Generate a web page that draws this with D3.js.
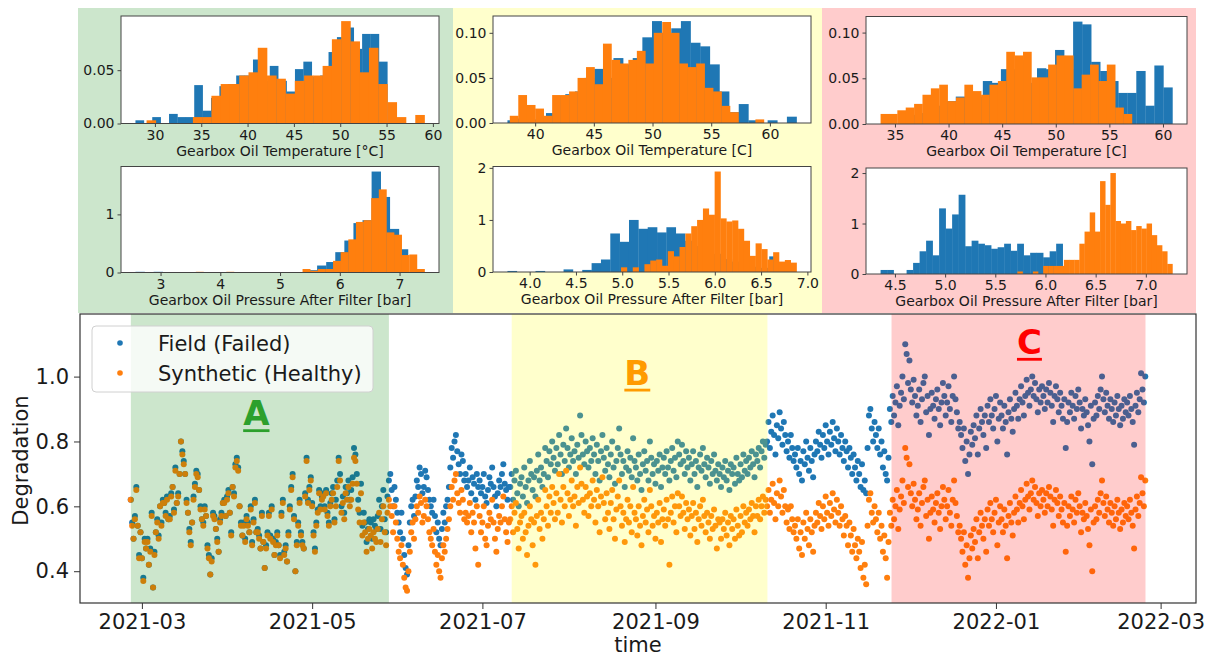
<!DOCTYPE html>
<html>
<head>
<meta charset="utf-8">
<script src="https://cdn.jsdelivr.net/npm/d3@7"></script>
<style>
body{margin:0;background:#fff;}
svg{display:block;font-family:"DejaVu Sans",sans-serif;}
</style>
</head>
<body>
<svg id="chart" width="1209" height="658"></svg>
<script>

//******************************************************************************
//**  Data
//******************************************************************************

  //Histograms: [first bin edge, bin width] and bin heights (density)
    var tempA_failedBin = [27.9, 0.906];
    var tempA_failed = [0.003,0,0.006,0,0.009,0.006,0.006,0.036,0.012,0.024,0.035,0.037,0.045,0.045,0.060,
                        0.040,0.054,0.040,0.030,0.051,0.058,0.044,0.045,0.067,0.081,0.090,0.070,0.084,0.084,0.058];
    var tempA_synthBin = [29.1, 1.0];
    var tempA_synth = [0.003,0,0,0,0,0.006,0.006,0.026,0.037,0.037,0.045,0.048,0.071,0.045,0.042,
                       0.028,0.040,0.045,0.045,0.054,0.079,0.096,0.077,0.048,0.071,0.037,0.020,0.006,0,0.008];

    var presA_failedBin = [2.58, 0.152];
    var presA_failed = [0.012,0,0.012,0,0,0,0,0,0,0,0,0,0,0,0,0,0,0,0,0.04,
                        0.12,0.18,0.35,0.55,0.85,0.90,1.737,1.30,0.75,0.40];
    var presA_synthBin = [3.59, 0.1276];
    var presA_synth = [0.012,0,0,0,0.012,0,0,0,0,0,0,0,0,0,0.06,0.03,0.06,0.06,0.20,0.35,
                       0.57,0.87,0.90,1.28,1.43,0.69,0.65,0.30,0.31,0.06];

    var tempB_failedBin = [37.64, 0.821];
    var tempB_failed = [0.003,0.005,0.004,0.006,0.011,0.030,0.032,0.035,0.050,0.060,0.050,0.072,0.065,0.072,0.095,
                        0.113,0.100,0.105,0.113,0.089,0.085,0.065,0.035,0.012,0.021,0.003,0,0.003,0,0.007];
    var tempB_synthBin = [37.84, 0.7216];
    var tempB_synth = [0.008,0.031,0.020,0.016,0.008,0.031,0.031,0.035,0.050,0.062,0.043,0.088,0.070,0.066,0.070,
                       0.080,0.066,0.100,0.112,0.100,0.066,0.062,0.066,0.039,0.035,0.019,0.012,0,0,0.004];

    var presB_failedBin = [3.76, 0.101];
    var presB_failed = [0.02,0,0,0.02,0,0,0.05,0,0.04,0.17,0.24,0.74,0.58,1.00,0.83,
                        0.86,0.76,0.86,0.74,0.60,0.50,0.40,0.35,0.25,0.20,0.15,0.10,0.08,0.30,0.05];
    var presB_synthBin = [4.987, 0.0632];
    var presB_synth = [0.09,0,0.09,0,0.15,0.22,0.24,0.12,0.40,0.30,0.48,0.74,0.88,1.00,1.22,
                       1.10,1.93,1.03,0.97,0.99,0.83,0.60,0.31,0.55,0.44,0.24,0.38,0.20,0.23,0.18];

    var tempC_failedBin = [35.62, 0.842];
    var tempC_failed = [0.008,0.010,0.012,0.015,0.020,0.025,0.030,0.025,0.030,0.047,0.045,0.060,0.060,0.070,0.045,
                        0.061,0.060,0.081,0.060,0.112,0.109,0.068,0.058,0.047,0.034,0.034,0.058,0.020,0.064,0.040];
    var tempC_synthBin = [33.66, 0.7815];
    var tempC_synth = [0.011,0.011,0.015,0.018,0.022,0.032,0.039,0.043,0.025,0.029,0.043,0.036,0.032,0.043,0.047,
                       0.079,0.075,0.079,0.051,0.051,0.065,0.075,0.075,0.039,0.054,0.065,0.047,0.065,0.018,0.011];

    var presC_failedBin = [4.357, 0.0648];
    var presC_failed = [0.08,0.08,0,0,0.08,0.22,0.45,0.66,0.37,1.30,0.90,1.18,1.57,0.55,
                        0.66,0.60,0.57,0.50,0.53,0.60,0.46,0.60,0.37,0.42,0.42,0.33,0.45,0.60];
    var presC_synthBin = [5.72, 0.0515];
    var presC_synth = [0.05,0,0,0.05,0,0.16,0.16,0.16,0.16,0.28,0.28,0.28,0.60,0.84,1.22,
                       0.84,1.84,1.37,2.00,1.05,1.00,1.05,0.87,0.95,0.90,1.00,0.77,0.57,0.45,0.20];

  //Histogram tick labels
    var tempTicksA = [30,35,40,45,50,55,60];
    var tempTicksB = [40,45,50,55,60];
    var tempTicksC = [35,40,45,50,55,60];
    var presTicksA = [3,4,5,6,7];
    var presTicksB = [4.0,4.5,5.0,5.5,6.0,6.5,7.0];
    var presTicksC = [4.5,5.0,5.5,6.0,6.5,7.0];
    var densTicksA = [0,0.05];
    var densTicksBC = [0,0.05,0.10];
    var presDensTicksA = [0,1];
    var presDensTicksBC = [0,1,2];

  //Degradation, two readings per day starting 2021-02-25
    var startDate = "2021-02-25";
    var field = [
      0.62,0.55,0.50,0.57,0.66,0.54,0.45,0.52,0.44,0.38,0.50,0.47,0.50,0.42,0.47,0.58,0.35,0.46,0.52,0.56,
      0.51,0.60,0.55,0.62,0.61,0.58,0.63,0.56,0.57,0.64,0.66,0.59,0.72,0.61,0.64,0.70,0.80,0.77,0.74,0.70,
      0.62,0.58,0.53,0.49,0.55,0.63,0.67,0.71,0.70,0.65,0.60,0.56,0.55,0.60,0.57,0.48,0.45,0.39,0.44,0.58,
      0.57,0.53,0.50,0.46,0.56,0.58,0.61,0.62,0.57,0.63,0.65,0.58,0.52,0.66,0.64,0.73,0.75,0.72,0.60,0.55,
      0.51,0.55,0.50,0.57,0.55,0.52,0.60,0.49,0.56,0.62,0.52,0.53,0.51,0.47,0.58,0.49,0.41,0.48,0.52,0.58,
      0.51,0.60,0.50,0.45,0.49,0.52,0.48,0.45,0.58,0.62,0.46,0.48,0.43,0.52,0.60,0.66,0.70,0.57,0.40,0.49,
      0.55,0.62,0.52,0.49,0.47,0.64,0.75,0.62,0.66,0.69,0.61,0.52,0.47,0.55,0.59,0.65,0.60,0.63,0.64,0.60,
      0.65,0.58,0.55,0.61,0.64,0.66,0.56,0.62,0.68,0.75,0.70,0.60,0.63,0.58,0.66,0.64,0.68,0.62,0.65,0.69,
      0.78,0.76,0.70,0.62,0.58,0.67,0.54,0.58,0.55,0.49,0.53,0.56,0.55,0.50,0.56,0.54,0.53,0.57,0.62,0.53,
      0.60,0.65,0.56,0.52,
      0.63,0.68,0.70,0.65,0.60,0.66,0.62,0.58,0.55,0.52,
      0.58,0.50,0.45,0.41,0.39,0.48,0.55,0.60,0.62,0.57,
      0.63,0.68,0.66,0.72,0.70,0.64,0.66,0.71,0.69,0.65,0.62,0.60,0.58,0.62,
      0.57,0.52,0.55,0.50,0.48,0.53,0.58,0.55,0.60,0.62,
      0.66,0.72,0.78,0.75,0.80,0.82,0.77,0.73,0.70,0.76,0.74,0.68,
      0.70,0.66,0.68,0.72,0.64,0.69,0.67,0.62,0.70,0.66,
      0.68,0.64,0.66,0.70,0.63,0.61,0.65,0.69,0.67,0.72,0.66,0.63,0.60,0.64,0.68,0.66,0.70,0.73,0.67,0.65,0.62,0.66,
      0.66,0.70,0.62,0.68,0.71,0.64,0.60,0.67,0.69,0.63,0.72,0.66,0.61,0.68,0.74,0.70,0.65,0.69,0.63,0.71,
      0.76,0.68,0.72,0.66,0.70,0.78,0.74,0.69,0.77,0.73,0.80,0.75,0.71,0.78,0.73,0.82,0.76,0.70,0.79,0.74,
      0.84,0.78,0.72,0.76,0.81,0.74,0.77,0.70,0.79,0.75,0.88,0.82,0.76,0.73,0.80,0.77,0.72,0.78,0.74,0.81,
      0.76,0.70,0.79,0.74,0.68,0.77,0.82,0.75,0.71,0.78,0.73,0.69,0.76,0.80,0.72,0.67,0.74,0.78,0.84,0.76,
      0.70,0.74,0.66,0.72,0.77,0.71,0.75,0.69,0.81,0.74,0.72,0.68,0.76,0.70,0.65,0.73,0.77,0.71,0.74,0.68,
      0.80,0.75,0.70,0.73,0.67,0.74,0.71,0.76,0.66,0.72,0.75,0.70,0.77,0.72,0.68,0.74,0.78,0.71,0.75,0.69,
      0.80,0.76,0.73,0.79,0.74,0.70,0.77,0.72,0.75,0.68,0.73,0.77,0.70,0.74,0.66,0.72,0.76,0.71,0.78,0.73,
      0.69,0.75,0.72,0.67,0.74,0.70,0.76,0.71,0.68,0.73,0.70,0.66,0.72,0.69,0.74,0.68,0.71,0.65,0.73,0.70,
      0.72,0.67,0.75,0.70,0.68,0.73,0.69,0.76,0.71,0.74,0.70,0.75,0.72,0.77,0.73,0.69,0.76,0.74,0.78,0.72,
      0.77,0.80,0.75,0.79,
      0.80,0.86,0.78,0.83,0.88,0.82,0.76,0.85,0.81,0.89,0.84,0.79,0.86,0.82,0.77,0.80,0.75,0.82,0.78,0.74,
      0.76,0.72,0.78,0.70,0.74,0.68,0.77,0.73,0.80,0.75,0.71,0.78,0.74,0.69,0.76,0.80,0.77,0.83,0.79,0.75,
      0.82,0.78,0.85,0.80,0.76,0.83,0.79,0.86,0.81,0.77,0.84,0.80,0.76,0.82,0.78,0.74,0.80,0.77,0.72,0.78,
      0.75,0.70,0.76,0.72,0.68,0.74,0.70,0.66,0.73,0.65,0.68,0.64,0.78,0.88,0.90,0.84,0.80,0.86,0.82,0.78,
      0.84,0.76,0.80,0.72,0.77,0.70,0.68,0.75,
      0.90,0.86,0.94,0.88,0.92,0.97,0.85,0.91,0.95,1.00,0.93,1.10,1.07,0.98,1.05,0.96,0.92,0.99,0.94,0.88,
      0.91,0.96,0.86,0.93,0.98,1.00,0.89,0.94,0.82,0.90,0.95,0.91,0.87,0.93,0.96,0.90,0.85,0.92,0.98,0.94,
      0.88,0.92,0.97,0.90,0.86,0.94,1.00,0.93,0.89,0.84,0.86,0.82,0.78,0.84,0.74,0.80,0.70,0.76,0.83,0.79,
      0.85,0.81,0.88,0.76,0.84,0.90,0.86,0.82,0.88,0.78,0.91,0.86,0.93,0.88,0.84,0.90,0.94,0.80,0.87,0.92,
      0.88,0.84,0.91,0.86,0.76,0.89,0.93,0.87,0.83,0.90,0.95,0.91,0.87,0.93,0.97,0.92,0.88,0.94,0.99,0.95,
      0.91,0.96,1.00,0.94,0.98,0.93,0.89,0.96,0.92,0.97,0.94,0.90,0.96,0.92,0.98,0.95,0.91,0.86,0.94,0.97,
      0.93,0.89,0.95,0.91,0.87,0.93,0.78,0.86,0.92,0.89,0.95,0.91,0.87,0.94,0.90,0.96,0.92,0.84,0.90,0.88,
      0.93,0.89,0.85,0.80,0.91,0.73,0.87,0.92,0.88,0.94,0.90,0.96,1.00,0.93,0.89,0.95,0.91,0.87,0.93,0.90,
      0.86,0.92,0.88,0.94,0.90,0.85,0.91,0.87,0.93,0.89,0.92,0.88,0.94,0.90,0.86,0.79,0.91,0.95,0.89,0.93,
      1.01,0.96,0.92,1.00
    ];
    var synthetic = [
      0.62,0.54,0.50,0.56,0.65,0.54,0.44,0.52,0.44,0.37,0.49,0.47,0.49,0.42,0.46,0.57,0.35,0.45,0.52,0.55,
      0.50,0.60,0.54,0.61,0.61,0.57,0.62,0.56,0.56,0.63,0.66,0.58,0.71,0.61,0.63,0.70,0.80,0.76,0.73,0.70,
      0.61,0.58,0.52,0.48,0.55,0.62,0.66,0.70,0.69,0.65,0.59,0.56,0.54,0.59,0.57,0.47,0.44,0.39,0.43,0.57,
      0.56,0.53,0.49,0.46,0.55,0.57,0.61,0.61,0.57,0.62,0.64,0.58,0.51,0.66,0.63,0.72,0.74,0.71,0.60,0.54,
      0.51,0.54,0.49,0.56,0.54,0.52,0.59,0.48,0.55,0.61,0.52,0.52,0.50,0.47,0.57,0.49,0.41,0.47,0.51,0.57,
      0.50,0.59,0.49,0.45,0.48,0.51,0.48,0.44,0.57,0.61,0.45,0.47,0.43,0.51,0.59,0.65,0.69,0.56,0.40,0.48,
      0.54,0.61,0.51,0.48,0.47,0.63,0.74,0.61,0.65,0.68,0.60,0.51,0.46,0.54,0.58,0.64,0.59,0.62,0.63,0.59,
      0.64,0.57,0.54,0.60,0.62,0.64,0.55,0.60,0.66,0.74,0.68,0.58,0.61,0.56,0.64,0.62,0.66,0.60,0.62,0.67,
      0.75,0.74,0.67,0.59,0.55,0.64,0.51,0.55,0.52,0.46,0.50,0.53,0.51,0.47,0.52,0.50,0.49,0.53,0.58,0.49,
      0.56,0.60,0.52,0.48,
      0.58,0.62,0.60,0.57,0.52,0.60,0.55,0.50,0.46,0.44,
      0.48,0.42,0.38,0.35,0.34,0.40,0.46,0.52,0.55,0.50,
      0.56,0.60,0.58,0.63,0.61,0.55,0.57,0.62,0.60,0.56,0.52,0.50,0.48,0.53,
      0.46,0.42,0.45,0.40,0.38,0.44,0.48,0.46,0.50,0.53,
      0.56,0.60,0.66,0.62,0.68,0.70,0.64,0.61,0.58,0.65,0.62,0.56,
      0.58,0.55,0.57,0.61,0.52,0.58,0.55,0.47,0.60,0.42,
      0.57,0.52,0.55,0.60,0.50,0.48,0.54,0.58,0.56,0.62,0.55,0.50,0.46,0.53,0.57,0.55,0.60,0.63,0.56,0.52,0.49,0.55,
      0.56,0.60,0.52,0.58,0.61,0.53,0.47,0.55,0.57,0.50,0.58,0.52,0.45,0.54,0.60,0.56,0.48,0.55,0.42,0.57,
      0.62,0.53,0.58,0.50,0.56,0.65,0.60,0.54,0.63,0.58,0.66,0.61,0.56,0.64,0.58,0.70,0.62,0.55,0.66,0.60,
      0.71,0.64,0.57,0.62,0.68,0.60,0.63,0.54,0.66,0.61,0.72,0.67,0.62,0.58,0.66,0.63,0.57,0.64,0.60,0.68,
      0.62,0.55,0.65,0.60,0.52,0.63,0.69,0.61,0.56,0.64,0.58,0.53,0.61,0.65,0.56,0.50,0.59,0.63,0.68,0.60,
      0.54,0.58,0.49,0.56,0.62,0.55,0.60,0.52,0.66,0.58,0.56,0.51,0.60,0.54,0.48,0.57,0.62,0.55,0.59,0.52,
      0.65,0.60,0.54,0.57,0.50,0.58,0.55,0.61,0.49,0.56,0.59,0.54,0.62,0.56,0.42,0.58,0.63,0.55,0.60,0.52,
      0.64,0.60,0.57,0.63,0.58,0.53,0.61,0.56,0.59,0.51,0.57,0.61,0.53,0.58,0.49,0.56,0.60,0.54,0.62,0.57,
      0.52,0.58,0.55,0.50,0.57,0.53,0.59,0.54,0.47,0.56,0.55,0.50,0.56,0.53,0.58,0.51,0.55,0.48,0.57,0.53,
      0.56,0.50,0.59,0.54,0.51,0.57,0.52,0.60,0.55,0.58,0.54,0.59,0.56,0.61,0.57,0.52,0.60,0.57,0.62,0.56,
      0.60,0.63,0.58,0.62,
      0.60,0.65,0.58,0.62,0.67,0.61,0.56,0.64,0.60,0.68,0.63,0.58,0.65,0.60,0.55,0.59,0.53,0.60,0.56,0.52,
      0.54,0.50,0.56,0.47,0.52,0.45,0.55,0.50,0.58,0.53,0.48,0.56,0.52,0.46,0.54,0.58,0.55,0.61,0.57,0.53,
      0.60,0.56,0.63,0.58,0.54,0.61,0.57,0.64,0.59,0.55,0.62,0.58,0.54,0.60,0.56,0.51,0.57,0.54,0.48,0.55,
      0.51,0.46,0.53,0.48,0.44,0.50,0.46,0.41,0.49,0.38,0.42,0.36,0.54,0.62,0.64,0.58,0.55,0.60,0.56,0.52,
      0.58,0.50,0.54,0.46,0.51,0.44,0.38,0.49,
      0.58,0.54,0.62,0.56,0.60,0.65,0.53,0.59,0.63,0.68,0.61,0.78,0.75,0.66,0.73,0.64,0.60,0.67,0.62,0.56,
      0.59,0.64,0.54,0.61,0.66,0.68,0.57,0.62,0.50,0.58,0.63,0.59,0.55,0.61,0.64,0.58,0.53,0.60,0.66,0.62,
      0.56,0.60,0.65,0.58,0.54,0.62,0.68,0.61,0.57,0.52,0.54,0.50,0.46,0.52,0.42,0.48,0.38,0.44,0.51,0.47,
      0.53,0.49,0.56,0.44,0.52,0.58,0.54,0.50,0.56,0.46,0.59,0.54,0.61,0.56,0.52,0.58,0.62,0.48,0.55,0.60,
      0.56,0.52,0.59,0.54,0.44,0.57,0.61,0.55,0.51,0.58,0.63,0.59,0.55,0.61,0.65,0.60,0.56,0.62,0.67,0.63,
      0.59,0.64,0.68,0.62,0.66,0.61,0.57,0.64,0.60,0.65,0.62,0.58,0.64,0.60,0.66,0.63,0.59,0.54,0.62,0.65,
      0.61,0.57,0.63,0.59,0.55,0.61,0.46,0.54,0.60,0.57,0.63,0.59,0.55,0.62,0.58,0.64,0.60,0.52,0.58,0.56,
      0.61,0.57,0.53,0.48,0.59,0.40,0.55,0.60,0.56,0.62,0.58,0.64,0.68,0.61,0.57,0.63,0.59,0.55,0.61,0.58,
      0.54,0.60,0.56,0.62,0.58,0.53,0.59,0.55,0.61,0.57,0.60,0.56,0.62,0.58,0.54,0.47,0.59,0.63,0.57,0.61,
      0.69,0.64,0.60,0.68
    ];

  //Highlighted periods
    var periods = ["A", "B", "C"];
    var periodStart = ["2021-02-25T01:00", "2021-07-11T12:00", "2021-11-24T14:00"];
    var periodEnd = ["2021-05-28T12:00", "2021-10-11T03:00", "2022-02-23T14:00"];
    var periodLabelDate = ["2021-04-11", "2021-08-25T12:00", "2022-01-13"];
    var periodLabelValue = [0.85, 0.975, 1.07];


//******************************************************************************
//**  Setup
//******************************************************************************
    var blue = "#1f77b4", orange = "#ff7f0e";
    var spanColors = ["#008000", "#ffff00", "#ff0000"];
    var panelColors = ["#cce6cc", "#ffffcc", "#ffcccc"];
    var letterColors = ["#2ca02c", "#ff9b00", "#ff0000"];
    var textColor = "#1a1a1a";
    var font = "DejaVu Sans";

    var svg = d3.select("#chart");


  //**************************************************************************
  //** binsOf
  //**************************************************************************
    var binsOf = function(heights, bin){
        return heights.map(function(h, i){
            return {x0: bin[0] + i*bin[1], x1: bin[0] + (i+1)*bin[1], h: h};
        });
    };


  //**************************************************************************
  //** drawHist
  //**************************************************************************
    var drawHist = function(box, failed, synth, xTicks, yTicks, xFmt, yFmt, label){

        var all = failed.concat(synth);
        var lo = d3.min(all, function(d){ return d.x0; });
        var hi = d3.max(all, function(d){ return d.x1; });
        var pad = (hi - lo)*0.05;
        var top = d3.max(all, function(d){ return d.h; })*1.05;

        var x = d3.scaleLinear().domain([lo - pad, hi + pad]).range([box.x0, box.x1]);
        var y = d3.scaleLinear().domain([0, top]).range([box.y1, box.y0]);

        var g = svg.append("g");
        g.append("rect")
            .attr("x", box.x0).attr("y", box.y0)
            .attr("width", box.x1 - box.x0).attr("height", box.y1 - box.y0)
            .attr("fill", "#fff");

        [[failed, blue], [synth, orange]].forEach(function(s){
            g.append("g").selectAll("rect")
                .data(s[0].filter(function(d){ return d.h > 0; }))
                .join("rect")
                .attr("x", function(d){ return x(d.x0); })
                .attr("width", function(d){ return x(d.x1) - x(d.x0) + 0.3; })
                .attr("y", function(d){ return y(d.h); })
                .attr("height", function(d){ return y(0) - y(d.h); })
                .attr("fill", s[1]);
        });

        g.append("rect")
            .attr("x", box.x0).attr("y", box.y0)
            .attr("width", box.x1 - box.x0).attr("height", box.y1 - box.y0)
            .attr("fill", "none").attr("stroke", "#444").attr("stroke-width", 1);

        var xa = g.append("g").attr("transform", "translate(0," + box.y1 + ")")
            .call(d3.axisBottom(x).tickValues(xTicks).tickSize(3.5).tickPadding(3).tickFormat(d3.format(xFmt)));
        var ya = g.append("g").attr("transform", "translate(" + box.x0 + ",0)")
            .call(d3.axisLeft(y).tickValues(yTicks).tickSize(3.5).tickPadding(3).tickFormat(d3.format(yFmt)));
        [xa, ya].forEach(function(a){
            a.select(".domain").remove();
            a.attr("font-family", font).attr("font-size", 14);
            a.selectAll("line").attr("stroke", "#444");
            a.selectAll("text").attr("fill", textColor);
        });

        g.append("text")
            .attr("x", (box.x0 + box.x1)/2).attr("y", box.y1 + 32)
            .attr("text-anchor", "middle")
            .attr("font-family", font).attr("font-size", 14)
            .attr("fill", textColor)
            .text(label);
    };


//******************************************************************************
//**  Top panels
//******************************************************************************
    var tempLabel = "Gearbox Oil Temperature [C]";
    var presLabel = "Gearbox Oil Pressure After Filter [bar]";

    var panels = [
        {x0: 78, x1: 453, top: [121, 439, 16, 123.5], bottom: [121, 439, 166.5, 272.5],
         temp: [binsOf(tempA_failed, tempA_failedBin), binsOf(tempA_synth, tempA_synthBin)],
         pres: [binsOf(presA_failed, presA_failedBin), binsOf(presA_synth, presA_synthBin)],
         tt: [tempTicksA, densTicksA], pt: [presTicksA, presDensTicksA], pf: "d",
         tl: "Gearbox Oil Temperature [\u00b0C]"},
        {x0: 453, x1: 822, top: [493, 811, 16, 123], bottom: [493, 811, 166.5, 272],
         temp: [binsOf(tempB_failed, tempB_failedBin), binsOf(tempB_synth, tempB_synthBin)],
         pres: [binsOf(presB_failed, presB_failedBin), binsOf(presB_synth, presB_synthBin)],
         tt: [tempTicksB, densTicksBC], pt: [presTicksB, presDensTicksBC], pf: ".1f",
         tl: tempLabel},
        {x0: 822, x1: 1196, top: [866, 1187, 16.5, 124], bottom: [866, 1187, 168, 274],
         temp: [binsOf(tempC_failed, tempC_failedBin), binsOf(tempC_synth, tempC_synthBin)],
         pres: [binsOf(presC_failed, presC_failedBin), binsOf(presC_synth, presC_synthBin)],
         tt: [tempTicksC, densTicksBC], pt: [presTicksC, presDensTicksBC], pf: ".1f",
         tl: tempLabel}
    ];

    panels.forEach(function(p, i){
        svg.append("rect")
            .attr("x", p.x0).attr("y", 8)
            .attr("width", p.x1 - p.x0).attr("height", 305)
            .attr("fill", panelColors[i]);

        var b = function(a){ return {x0: a[0], x1: a[1], y0: a[2], y1: a[3]}; };
        drawHist(b(p.top), p.temp[0], p.temp[1], p.tt[0], p.tt[1], "d", ".2f", p.tl);
        drawHist(b(p.bottom), p.pres[0], p.pres[1], p.pt[0], p.pt[1], p.pf, "d", presLabel);
    });


//******************************************************************************
//**  Degradation scatter
//******************************************************************************
    var m = {left: 80, right: 1196, top: 314, bottom: 603};
    var t0 = d3.timeParse("%Y-%m-%d")(startDate);
    var toPoints = function(values){
        return values.map(function(v, i){
            return {t: d3.timeHour.offset(t0, 12*i), v: v};
        });
    };
    var fieldPts = toPoints(field);
    var synthPts = toPoints(synthetic);

    var tExt = d3.extent(fieldPts.concat(synthPts), function(d){ return d.t; });
    var tPad = (tExt[1] - tExt[0])*0.05;
    var x = d3.scaleTime()
        .domain([new Date(+tExt[0] - tPad), new Date(+tExt[1] + tPad)])
        .range([m.left, m.right]);
    var y = d3.scaleLinear().domain([0.302, 1.193]).range([m.bottom, m.top]);

    var main = svg.append("g");
    main.append("rect")
        .attr("x", m.left).attr("y", m.top)
        .attr("width", m.right - m.left).attr("height", m.bottom - m.top)
        .attr("fill", "#fff");

    [[fieldPts, blue], [synthPts, orange]].forEach(function(s){
        main.append("g").selectAll("circle")
            .data(s[0])
            .join("circle")
            .attr("cx", function(d){ return x(d.t); })
            .attr("cy", function(d){ return y(d.v); })
            .attr("r", 3)
            .attr("fill", s[1]);
    });

  //Shaded periods are drawn over the points, as in the original figure
    var parseT = function(s){ return s.length > 10 ? d3.isoParse(s + ":00") : d3.timeParse("%Y-%m-%d")(s); };
    var localT = function(s){
        var p = s.split("T");
        var d = d3.timeParse("%Y-%m-%d")(p[0]);
        if (p[1]) d = d3.timeMinute.offset(d, +p[1].split(":")[0]*60 + +p[1].split(":")[1]);
        return d;
    };
    periods.forEach(function(name, i){
        var a = x(localT(periodStart[i])), b = x(localT(periodEnd[i]));
        main.append("rect")
            .attr("x", a).attr("y", m.top)
            .attr("width", b - a).attr("height", m.bottom - m.top)
            .attr("fill", spanColors[i]).attr("fill-opacity", 0.2);
    });

    periods.forEach(function(name, i){
        var cx = x(localT(periodLabelDate[i]));
        var cy = y(periodLabelValue[i]);
        var t = main.append("text")
            .attr("x", cx).attr("y", cy)
            .attr("text-anchor", "middle")
            .attr("font-family", font).attr("font-size", 34).attr("font-weight", "bold")
            .attr("fill", letterColors[i])
            .text(name);
        var w = t.node().getComputedTextLength();
        main.append("rect")
            .attr("x", cx - w/2).attr("y", cy + 4)
            .attr("width", w).attr("height", 2.8)
            .attr("fill", letterColors[i]);
    });

  //Frame and axes
    main.append("rect")
        .attr("x", m.left).attr("y", m.top)
        .attr("width", m.right - m.left).attr("height", m.bottom - m.top)
        .attr("fill", "none").attr("stroke", "#333").attr("stroke-width", 1.2);

    var xa = main.append("g").attr("transform", "translate(0," + m.bottom + ")")
        .call(d3.axisBottom(x).ticks(d3.timeMonth.every(2)).tickSize(6).tickPadding(5)
            .tickFormat(d3.timeFormat("%Y-%m")));
    var ya = main.append("g").attr("transform", "translate(" + m.left + ",0)")
        .call(d3.axisLeft(y).tickValues([0.4, 0.6, 0.8, 1.0]).tickSize(6).tickPadding(5)
            .tickFormat(d3.format(".1f")));
    [xa, ya].forEach(function(a){
        a.select(".domain").remove();
        a.attr("font-family", font).attr("font-size", 21);
        a.selectAll("line").attr("stroke", "#333");
        a.selectAll("text").attr("fill", textColor);
    });

    main.append("text")
        .attr("x", (m.left + m.right)/2).attr("y", 652)
        .attr("text-anchor", "middle")
        .attr("font-family", font).attr("font-size", 21).attr("fill", textColor)
        .text("time");
    main.append("text")
        .attr("transform", "translate(28," + ((m.top + m.bottom)/2 + 2) + ") rotate(-90)")
        .attr("text-anchor", "middle")
        .attr("font-family", font).attr("font-size", 21).attr("fill", textColor)
        .text("Degradation");

  //Legend
    var legend = main.append("g").attr("transform", "translate(" + (m.left + 12) + "," + (m.top + 12) + ")");
    legend.append("rect")
        .attr("width", 281).attr("height", 66).attr("rx", 4)
        .attr("fill", "#fff").attr("fill-opacity", 0.8)
        .attr("stroke", "#d0d0d0");
    [["Field (Failed)", blue], ["Synthetic (Healthy)", orange]].forEach(function(e, i){
        legend.append("circle")
            .attr("cx", 28).attr("cy", 17 + i*30).attr("r", 2.8)
            .attr("fill", e[1]);
        legend.append("text")
            .attr("x", 66).attr("y", 17 + i*30 + 7.5)
            .attr("font-family", font).attr("font-size", 21).attr("fill", textColor)
            .text(e[0]);
    });

</script>
</body>
</html>
